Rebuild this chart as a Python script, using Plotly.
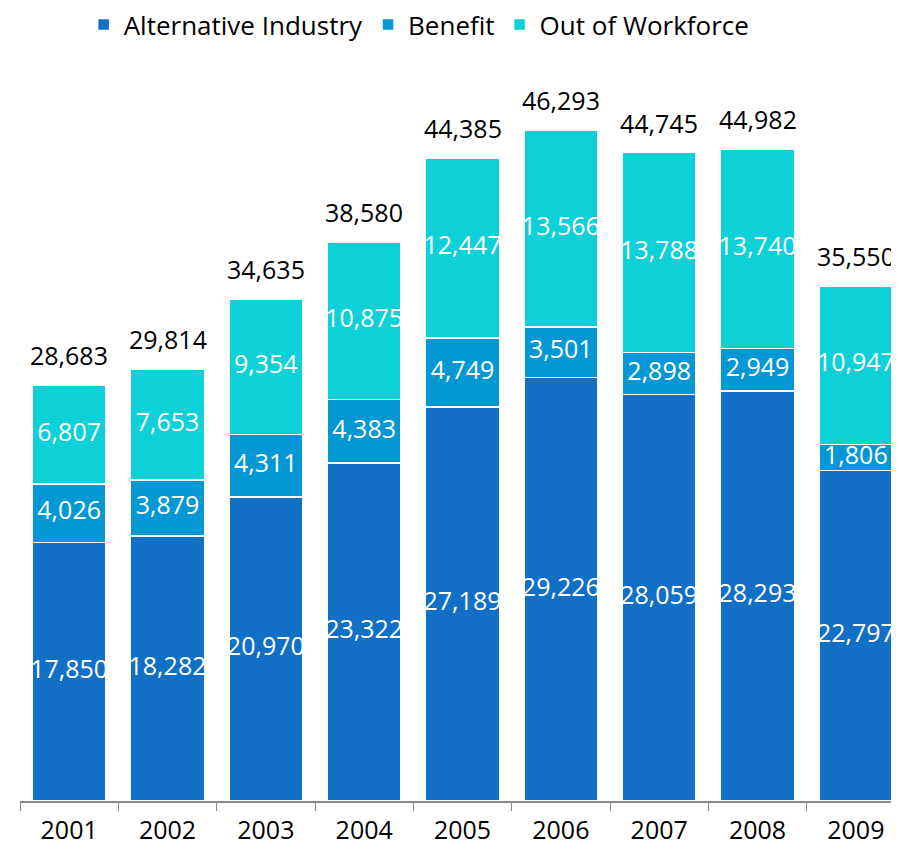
import plotly.graph_objects as go

years = ["2001", "2002", "2003", "2004", "2005", "2006", "2007", "2008", "2009"]
alt_industry = [17850, 18282, 20970, 23322, 27189, 29226, 28059, 28293, 22797]
benefit = [4026, 3879, 4311, 4383, 4749, 3501, 2898, 2949, 1806]
out_workforce = [6807, 7653, 9354, 10875, 12447, 13566, 13788, 13740, 10947]
totals = [28683, 29814, 34635, 38580, 44385, 46293, 44745, 44982, 35550]

names = ["Alternative Industry", "Benefit", "Out of Workforce"]
colors = ["#1170C5", "#0398D4", "#0DD0D8"]
series = [alt_industry, benefit, out_workforce]

FONT = "Open Sans"
FS = 25

fig = go.Figure()
for name, vals, col in zip(names, series, colors):
    fig.add_trace(go.Bar(
        x=years, y=vals, name=name,
        marker=dict(color=col, line=dict(color="white", width=1.5)),
    ))

# segment labels at midpoints
base = [0] * len(years)
for vals in series:
    mids = [b + v / 2 for b, v in zip(base, vals)]
    fig.add_trace(go.Scatter(
        x=years, y=mids, mode="text",
        text=[f"{v:,}" for v in vals],
        textfont=dict(color="white", size=FS, family=FONT),
        showlegend=False, hoverinfo="skip", cliponaxis=False,
    ))
    base = [b + v for b, v in zip(base, vals)]

# totals above bars
for i, tot in enumerate(totals):
    fig.add_annotation(
        x=i, y=tot, xref="x", yref="y", text=f"{tot:,}", showarrow=False,
        yanchor="middle", yshift=30,
        font=dict(color="black", size=FS, family=FONT),
    )

fig.update_layout(
    width=899, height=849,
    barmode="stack", bargap=0.25,
    plot_bgcolor="white", paper_bgcolor="white",
    margin=dict(l=12, r=0, t=60, b=56, autoexpand=False),
    font=dict(family=FONT, size=FS, color="black"),
    legend=dict(orientation="h", x=0.450, xanchor="center", xref="paper",
                y=1.0914, yanchor="top", yref="paper",
                font=dict(size=26, family=FONT),
                traceorder="normal", itemwidth=30),
    showlegend=True,
)
fig.update_xaxes(
    type="category",
    range=[-0.5, 8.52], showline=True, linecolor="#898989", linewidth=1.5,
    ticks="outside", tickson="boundaries", ticklen=8, tickcolor="#898989",
    ticklabelstandoff=6,
    tickfont=dict(size=FS, family=FONT, color="black"), showgrid=False,
)
fig.update_yaxes(visible=False, range=[0, 50585], showgrid=False)

fig.write_html("out.html")
